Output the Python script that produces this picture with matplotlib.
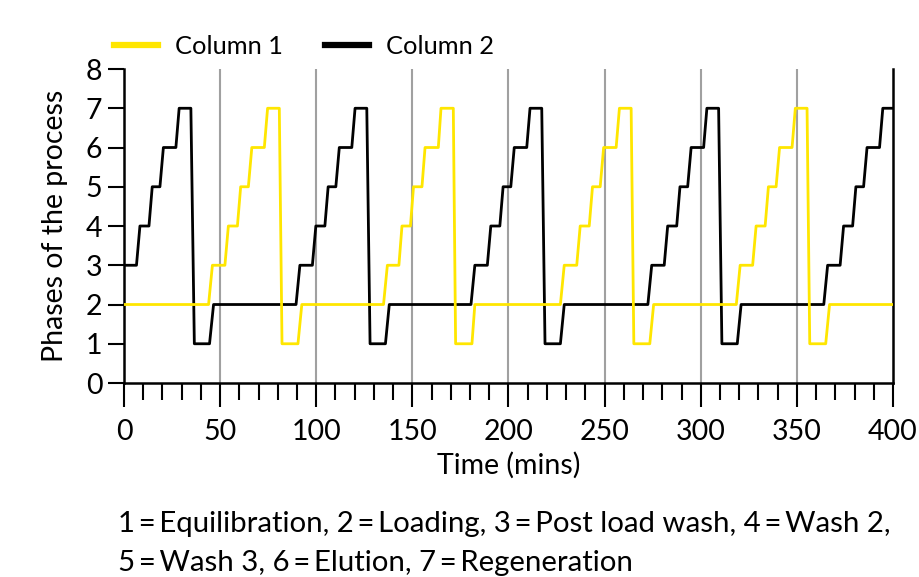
import matplotlib
matplotlib.use("Agg")
import matplotlib.pyplot as plt

plt.rcParams['font.family'] = ['Lato', 'DejaVu Sans']

# Column 1 (yellow) - times (mins) and phase values
col1_time = [0, 44, 46, 52.5, 54.3, 59, 60.7, 64.7, 66.5, 73, 74.7, 80.8, 82.2, 90.5, 92.5,
             135, 137, 143, 144.6, 149, 150.6, 155, 156.6, 163.5, 164.9, 171.3, 172.5, 181, 182.5,
             227, 229, 235.5, 237.3, 242, 243.7, 247.7, 249.5, 256, 257.7, 263.8, 265.2, 273.5, 275.5,
             318.5, 320.5, 327, 328.8, 333.5, 335.2, 339.2, 341, 347.5, 349.2, 355.3, 356.7, 365, 367,
             400]
col1_phase = [2, 2, 3, 3, 4, 4, 5, 5, 6, 6, 7, 7, 1, 1, 2,
              2, 3, 3, 4, 4, 5, 5, 6, 6, 7, 7, 1, 1, 2,
              2, 3, 3, 4, 4, 5, 5, 6, 6, 7, 7, 1, 1, 2,
              2, 3, 3, 4, 4, 5, 5, 6, 6, 7, 7, 1, 1, 2,
              2]

# Column 2 (black)
col2_time = [0, 6.5, 8.3, 13, 14.7, 18.7, 20.5, 27, 28.7, 34.8, 36.6, 44.5, 46.6,
             89.5, 91.5, 98, 99.8, 104.5, 106.2, 110.2, 112, 118.5, 120.2, 126.3, 128, 136, 138,
             180.5, 182.5, 189, 190.8, 195.5, 197.2, 201.2, 203, 209.5, 211.2, 217.3, 219, 227, 229,
             272.5, 274.5, 281, 282.8, 287.5, 289.2, 293.2, 295, 301.5, 303.2, 309.3, 311, 319, 321,
             364, 366, 372.5, 374.3, 379, 380.7, 384.7, 386.5, 393, 394.7, 400]
col2_phase = [3, 3, 4, 4, 5, 5, 6, 6, 7, 7, 1, 1, 2,
              2, 3, 3, 4, 4, 5, 5, 6, 6, 7, 7, 1, 1, 2,
              2, 3, 3, 4, 4, 5, 5, 6, 6, 7, 7, 1, 1, 2,
              2, 3, 3, 4, 4, 5, 5, 6, 6, 7, 7, 1, 1, 2,
              2, 3, 3, 4, 4, 5, 5, 6, 6, 7, 7]

x_major = [0, 50, 100, 150, 200, 250, 300, 350, 400]
x_minor = list(range(0, 401, 10))
y_ticks = [0, 1, 2, 3, 4, 5, 6, 7, 8]
grid_x = [50, 100, 150, 200, 250, 300, 350]

footer_lines = ["1\u2009=\u2009Equilibration, 2\u2009=\u2009Loading, 3\u2009=\u2009Post load wash, 4\u2009=\u2009Wash 2,",
                "5\u2009=\u2009Wash 3, 6\u2009=\u2009Elution, 7\u2009=\u2009Regeneration"]

fs = 20.5

fig = plt.figure(figsize=(9.19, 5.77), dpi=100)
ax = fig.add_axes([0.1349, 0.3362, 0.8368, 0.5442])

for gx in grid_x:
    ax.axvline(gx, color='#a0a0a0', linewidth=1.5, zorder=1)

ax.plot(col1_time, col1_phase, color='#FFE600', linewidth=2.0, label='Column 1', zorder=3)
ax.plot(col2_time, col2_phase, color='black', linewidth=2.0, label='Column 2', zorder=2)

ax.set_xlim(0, 400)
ax.set_ylim(0, 8)
ax.set_xticks(x_major)
ax.set_xticks(x_minor, minor=True)
ax.set_yticks(y_ticks)

for s in ['left', 'bottom', 'right']:
    ax.spines[s].set_linewidth(1.8)
ax.spines['top'].set_visible(False)

ax.tick_params(axis='x', which='major', length=17, width=1.5, labelsize=fs, pad=9)
ax.tick_params(axis='x', which='minor', length=12, width=1.5)
ax.tick_params(axis='y', which='major', length=11.5, width=1.5, labelsize=fs, pad=4)

ax.set_xlabel('Time (mins)', fontsize=fs, labelpad=5)
ax.set_ylabel('Phases of the process', fontsize=fs, labelpad=13)

leg = ax.legend(loc='lower left', bbox_to_anchor=(-0.03, 0.995), ncol=2, frameon=False,
                fontsize=18.3, handlelength=1.73, handletextpad=0.67, columnspacing=1.69,
                borderaxespad=0.1)
for h in leg.get_lines():
    h.set_linewidth(4.5)

fig.text(0.128, 1 - 532 / 577, footer_lines[0], fontsize=21.2, ha='left', va='baseline')
fig.text(0.128, 1 - 571 / 577, footer_lines[1], fontsize=21.2, ha='left', va='baseline')

fig.savefig('out.png', dpi=100)
